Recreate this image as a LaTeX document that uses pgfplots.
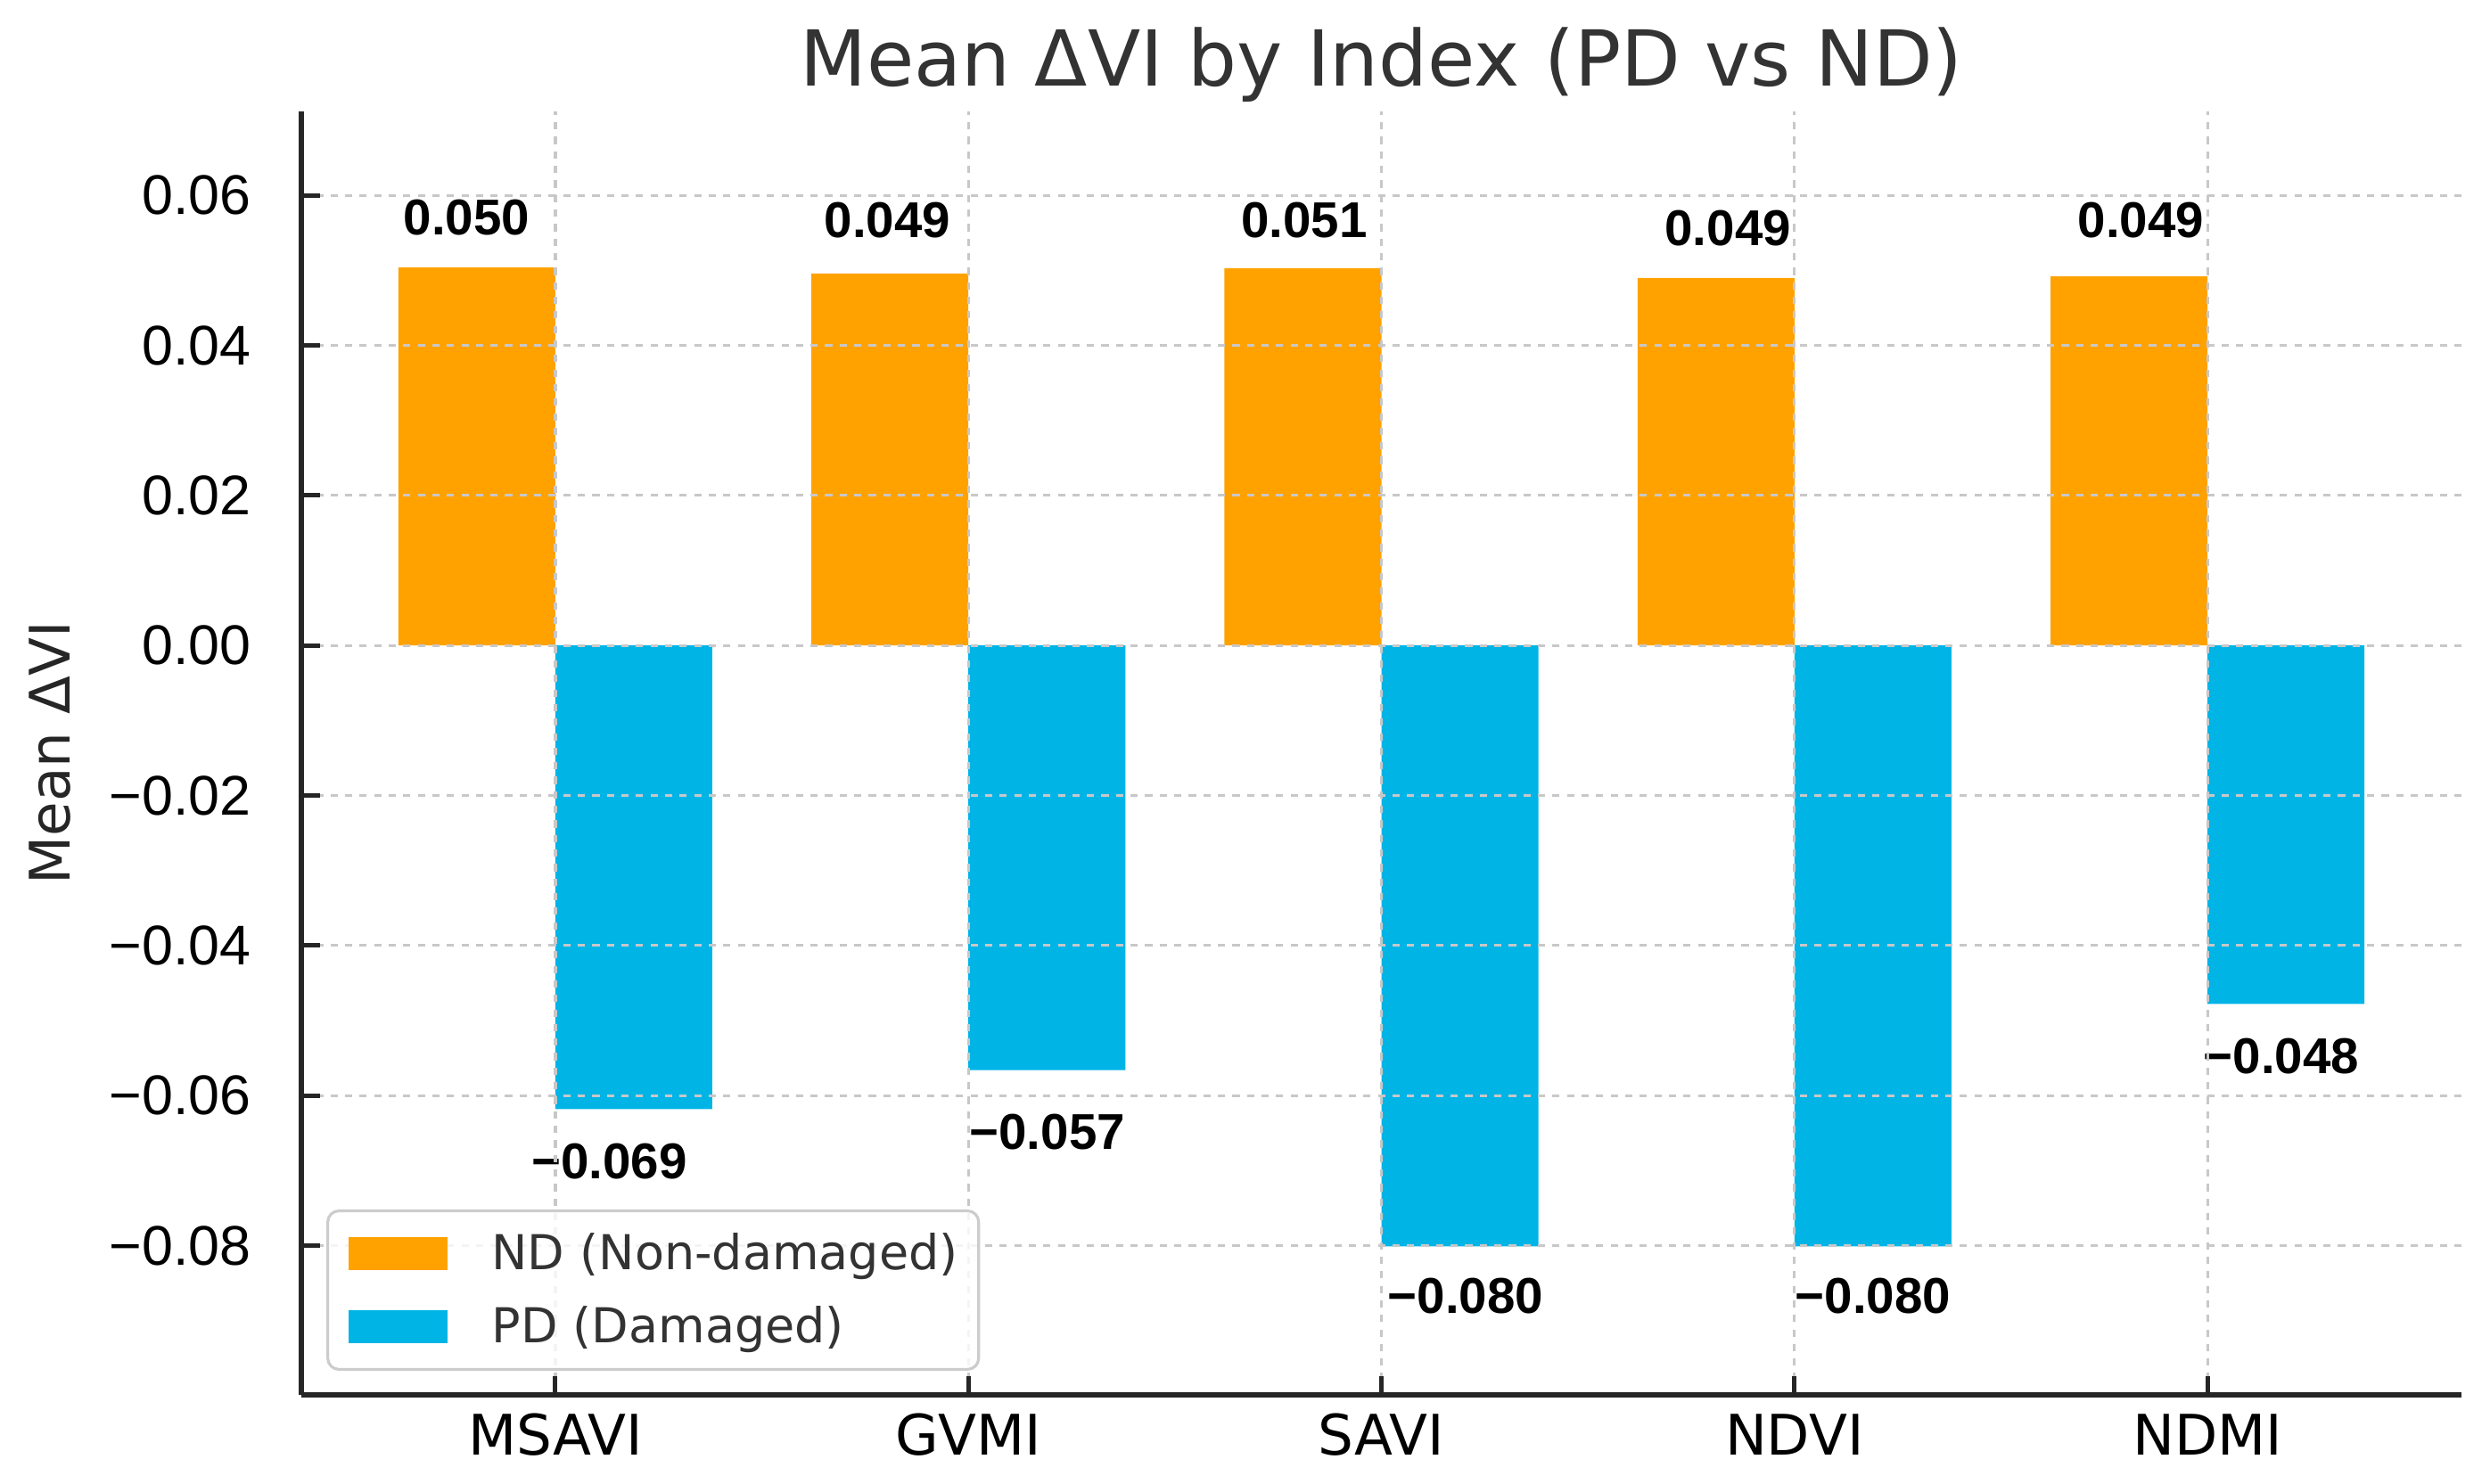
\documentclass[border=0pt]{standalone}
\usepackage{fontspec}
\setmainfont{DejaVu Sans}
\newfontfamily\tickfont{Liberation Sans}
\usepackage{pgfplots}
\pgfplotsset{compat=1.18}

\definecolor{ndorange}{HTML}{FFA200}
\definecolor{pdblue}{HTML}{00B4E6}
\definecolor{gridgray}{HTML}{C8C8C8}

\begin{document}
\begin{tikzpicture}[
    lbl/.style={anchor=base, inner sep=0pt, font=\tickfont\bfseries\fontsize{9}{10}\selectfont}
  ]
  % page frame: axis box is 13.569cm x 8.064cm with its lower left corner at the origin
  \useasboundingbox (-1.893cm,-0.56cm) rectangle (13.748cm,8.764cm);
  \begin{axis}[
      name=ax,
      at={(0,0)}, anchor=south west,
      scale only axis,
      width=13.569cm, height=8.064cm,
      xmin=-0.615, xmax=4.615,
      ymin=-0.0999, ymax=0.0712,
      axis x line*=bottom, axis y line*=left,
      axis line style={black!85, line width=1pt},
      axis on top,
      ybar, bar width=0.38,
      xtick={0,1,2,3,4},
      xticklabels={MSAVI,GVMI,SAVI,NDVI,NDMI},
      ytick={-0.08,-0.06,-0.04,-0.02,0,0.02,0.04,0.06},
      yticklabels={−0.08,−0.06,−0.04,−0.02,0.00,0.02,0.04,0.06},
      scaled y ticks=false,
      tick align=inside,
      major tick length=0.12cm,
      tick style={black!85, line width=0.8pt},
      xmajorgrids, ymajorgrids,
      major grid style={gridgray, dash pattern=on 1.3pt off 1.3pt, line width=0.5pt},
      xticklabel style={font=\fontsize{10}{12}\selectfont, anchor=base, yshift=-0.381cm},
      yticklabel style={font=\tickfont\fontsize{10}{12}\selectfont, anchor=east, inner sep=0pt, xshift=-0.31cm},
      title={Mean ΔVI by Index (PD vs ND)},
      every axis title shift=0pt,
      title style={at={(0.5,1)}, anchor=base, yshift=0.159cm, inner sep=0pt, font=\fontsize{13.8}{16}\selectfont, text=black!80},
      ylabel={Mean ΔVI},
      every axis y label/.style={at={(axis description cs:-0.1073,0.5)}, rotate=90, anchor=base, font=\fontsize{10}{12}\selectfont, text=black!85},
      legend style={at={(0.01156,0.01875)}, anchor=south west, draw=gray!40, line width=0.5pt,
        rounded corners=2pt, fill=white, fill opacity=0.8, text opacity=1, text=black!80,
        font=\fontsize{8.6}{10}\selectfont, inner xsep=0.13cm, inner ysep=0.165cm,
        row sep=0.252cm, column sep=0.28cm,
        nodes={inner sep=0pt, text height=0.207cm, text depth=0pt}},
      legend image code/.code={\draw[#1, draw=none, sharp corners, fill opacity=1] (0cm,-0.1035cm) rectangle (0.62cm,0.1035cm);},
      legend cell align=left,
    ]
    % ND (non-damaged)
    \addplot[fill=ndorange, draw=none, bar shift=-0.19] coordinates {
      (0,0.0504) (1,0.0496) (2,0.0503) (3,0.0490) (4,0.0492)};
    % PD (damaged)
    \addplot[fill=pdblue, draw=none, bar shift=0.19] coordinates {
      (0,-0.0618) (1,-0.0566) (2,-0.0801) (3,-0.0801) (4,-0.0478)};
    \legend{ND (Non-damaged),PD (Damaged)}

    % value labels as placed in the original
    \node[lbl] at (axis cs:-0.2148,0.05475) {0.050};
    \node[lbl] at (axis cs:0.804,0.05435) {0.049};
    \node[lbl] at (axis cs:1.813,0.05435) {0.051};
    \node[lbl] at (axis cs:2.839,0.05336) {0.049};
    \node[lbl] at (axis cs:3.839,0.05435) {0.049};
    \node[lbl] at (axis cs:0.1306,-0.07107) {−0.069};
    \node[lbl] at (axis cs:1.191,-0.06714) {−0.057};
    \node[lbl] at (axis cs:2.204,-0.08901) {−0.080};
    \node[lbl] at (axis cs:3.190,-0.08901) {−0.080};
    \node[lbl] at (axis cs:4.179,-0.05704) {−0.048};
  \end{axis}
\end{tikzpicture}
\end{document}
